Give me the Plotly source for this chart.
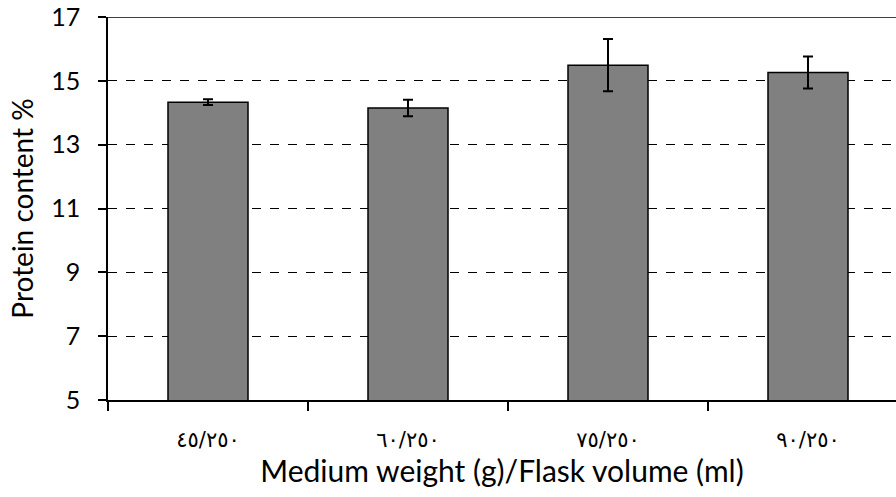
import plotly.graph_objects as go

categories = ["٤٥/٢٥٠", "٦٠/٢٥٠", "٧٥/٢٥٠", "٩٠/٢٥٠"]
protein = [14.33, 14.15, 15.49, 15.26]
errors = [0.09, 0.26, 0.82, 0.50]
y_ticks = [5, 7, 9, 11, 13, 15, 17]

FONT = "Lato, 'DejaVu Sans', sans-serif"

fig = go.Figure()
fig.add_trace(go.Bar(
    x=categories, y=protein,
    width=0.4,
    marker=dict(color="#808080", line=dict(color="black", width=1.5)),
    error_y=dict(type="data", array=errors, visible=True,
                 color="black", thickness=2, width=5),
))

fig.update_layout(
    width=896, height=497,
    margin=dict(l=108, r=0, t=17, b=97),
    paper_bgcolor="white", plot_bgcolor="white",
    showlegend=False,
    font=dict(family=FONT, color="black"),
    shapes=[dict(type="line", xref="paper", x0=0, x1=1, yref="y",
                 y0=y_ticks[-1], y1=y_ticks[-1],
                 line=dict(color="black", width=1.5))],
)
fig.update_xaxes(
    type="category", range=[-0.5, 3.44], automargin=False,
    tickson="boundaries", ticks="outside", ticklen=9, tickwidth=1.5, tickcolor="black",
    showline=True, linecolor="black", linewidth=1.5,
    showgrid=False,
    tickfont=dict(size=21, family="'DejaVu Sans', sans-serif"),
    ticklabelstandoff=20,
    title=dict(text="Medium weight (g)/Flask volume (ml)", font=dict(size=30), standoff=10),
)
fig.update_yaxes(
    range=[5, 17], tickvals=y_ticks, automargin=False,
    ticks="outside", ticklen=8, tickwidth=1.5, tickcolor="black",
    showline=True, linecolor="black", linewidth=1.5,
    showgrid=True, gridcolor="black", gridwidth=1.3, griddash="dash",
    zeroline=False,
    tickfont=dict(size=25),
    ticklabelstandoff=13,
    title=dict(text="Protein content %", font=dict(size=28), standoff=9),
)

fig.write_html("out.html", config={"displayModeBar": False},
               post_script="document.body.style.margin='0';")
